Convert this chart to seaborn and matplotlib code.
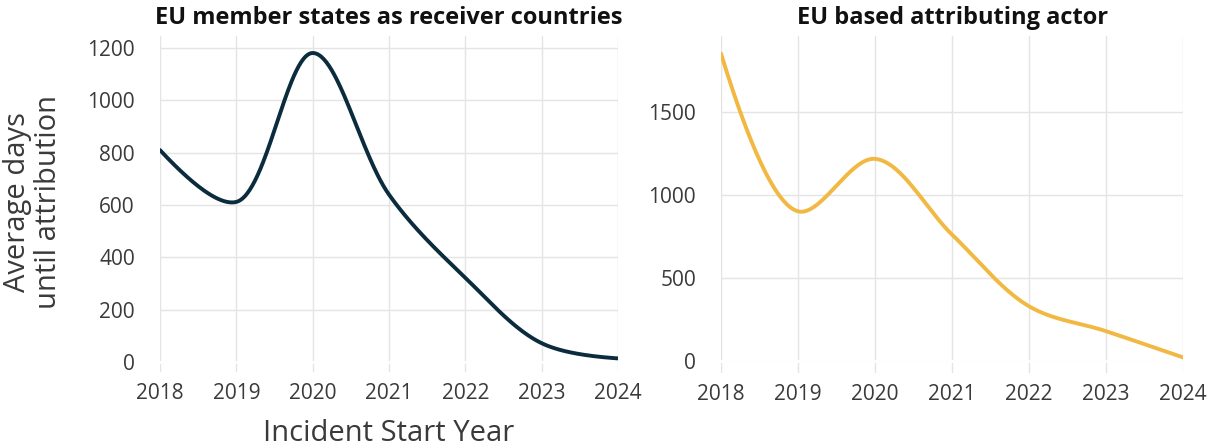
import numpy as np
import pandas as pd
import matplotlib
matplotlib.use("Agg")
import matplotlib.pyplot as plt
import seaborn as sns

# Yearly averages
years = [2018, 2019, 2020, 2021, 2022, 2023, 2024]
eu_receiver_days = [810, 612, 1181, 640, 322, 72, 14]
eu_actor_days = [1852, 902, 1218, 762, 330, 180, 22]

title_left = "EU member states as receiver countries"
title_right = "EU based attributing actor"

sns.set_theme(style="whitegrid")
plt.rcParams["font.family"] = ["Open Sans", "DejaVu Sans"]

NAVY = "#0b2c3c"
GOLD = "#f1b842"
GRID = "#e4e4e4"
TEXT = "#3a3a3a"
W, H = 1220, 448


def make_tangent(prev, this, nxt, smooth=1.0):
    # plotly style catmull-rom tangent (pixel space)
    d1 = prev - this
    d2 = nxt - this
    d1a = np.hypot(*d1) ** 0.5
    d2a = np.hypot(*d2) ** 0.5
    num = (d2a ** 2 * d1 - d1a ** 2 * d2) * smooth
    den1 = 3 * d2a * (d1a + d2a)
    den2 = 3 * d1a * (d1a + d2a)
    return this + num / den1, this - num / den2


def spline_curve(ax, xs, ys, n=60):
    # smooth the line between the data points, computed in display space
    pts = ax.transData.transform(np.column_stack([xs, ys]))
    tans = [make_tangent(pts[i - 1], pts[i], pts[i + 1]) for i in range(1, len(pts) - 1)]
    t = np.linspace(0, 1, n)[:, None]
    segs = []
    p0, c, p1 = pts[0], tans[0][0], pts[1]
    segs.append((1 - t) ** 2 * p0 + 2 * (1 - t) * t * c + t ** 2 * p1)
    for i in range(2, len(pts) - 1):
        p0, c1, c2, p1 = pts[i - 1], tans[i - 2][1], tans[i - 1][0], pts[i]
        segs.append((1 - t) ** 3 * p0 + 3 * (1 - t) ** 2 * t * c1
                    + 3 * (1 - t) * t ** 2 * c2 + t ** 3 * p1)
    p0, c, p1 = pts[-2], tans[-1][1], pts[-1]
    segs.append((1 - t) ** 2 * p0 + 2 * (1 - t) * t * c + t ** 2 * p1)
    curve = ax.transData.inverted().transform(np.vstack(segs))
    return pd.DataFrame({"year": curve[:, 0], "days": curve[:, 1]})


def px_axes(fig, x0, x1, y0, y1):
    return fig.add_axes([x0 / W, 1 - y1 / H, (x1 - x0) / W, (y1 - y0) / H])


fig = plt.figure(figsize=(W / 100, H / 100), dpi=100)
ax1 = px_axes(fig, 160, 618, 36, 372)
ax2 = px_axes(fig, 721, 1183, 36, 373)

panels = [
    (ax1, eu_receiver_days, NAVY, (-38, 1246), [0, 200, 400, 600, 800, 1000, 1200]),
    (ax2, eu_actor_days, GOLD, (-72, 1958), [0, 500, 1000, 1500]),
]

for ax, vals, color, ylim, yticks in panels:
    ax.set_xlim(2018, 2024)
    ax.set_ylim(*ylim)
    ax.set_xticks(years)
    ax.set_yticks(yticks)
    ax.set_facecolor("white")
    ax.grid(True, color=GRID, linewidth=1)
    for s in ax.spines.values():
        s.set_visible(False)
    ax.tick_params(axis="both", length=0, labelsize=15, colors=TEXT)
    ax.tick_params(axis="x", pad=8)
    ax.tick_params(axis="y", pad=18)
    ax.axhline(0, color="white", linewidth=2, zorder=1.5)
    df = spline_curve(ax, years, vals)
    sns.lineplot(data=df, x="year", y="days", ax=ax, color=color,
                 linewidth=2.8, sort=False, estimator=None, zorder=3)
    ax.set_xlabel("")
    ax.set_ylabel("")

fig.text(389 / W, 1 - 433 / H, "Incident Start Year", ha="center", va="center",
         fontsize=21, color=TEXT)
fig.text(33 / W, 1 - 202 / H, "Average days\nuntil attribution",
         rotation=90, ha="center", va="center", fontsize=21, color=TEXT,
         linespacing=1.12)
fig.text(389 / W, 1 - 18 / H, title_left, ha="center", va="center",
         fontsize=17, fontweight="bold", color="#111111")
fig.text(953 / W, 1 - 18 / H, title_right, ha="center", va="center",
         fontsize=17, fontweight="bold", color="#111111")

fig.savefig("out.png", dpi=100)
